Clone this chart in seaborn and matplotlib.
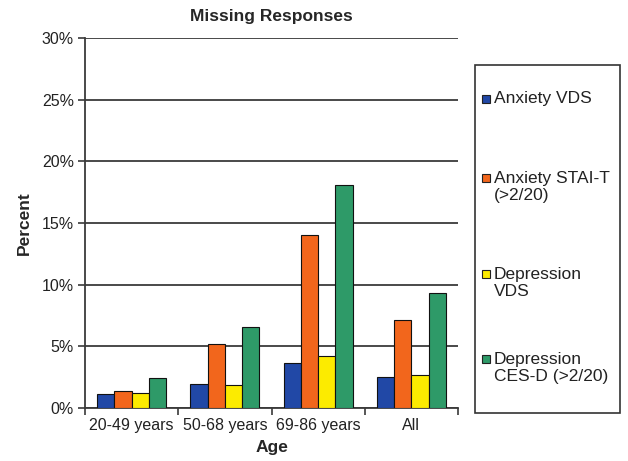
import pandas as pd
import matplotlib
matplotlib.use("Agg")
import matplotlib.pyplot as plt
from matplotlib.patches import Rectangle
import seaborn as sns

# data (percent missing)
ages = ["20-49 years", "50-68 years", "69-86 years", "All"]
measures = ["Anxiety VDS", "Anxiety STAI-T\n(>2/20)", "Depression\nVDS", "Depression\nCES-D (>2/20)"]
anxiety_vds = [1.1, 1.95, 3.65, 2.55]
anxiety_stai = [1.35, 5.15, 14.0, 7.15]
depression_vds = [1.2, 1.85, 4.2, 2.7]
depression_cesd = [2.4, 6.55, 18.1, 9.3]
colors = ["#2148A6", "#F2661C", "#FCEB00", "#2E9A68"]

rows = []
for m, vals in zip(measures, [anxiety_vds, anxiety_stai, depression_vds, depression_cesd]):
    for a, v in zip(ages, vals):
        rows.append({"Age": a, "Measure": m, "Percent": v})
df = pd.DataFrame(rows)

sns.set_style("white")
plt.rcParams["font.family"] = ["Liberation Sans", "DejaVu Sans"]

W, H = 628, 461
fig = plt.figure(figsize=(W / 100, H / 100), dpi=100)
ax = fig.add_axes([85 / W, 1 - 408 / H, (458 - 85) / W, (408 - 38) / H])

sns.barplot(data=df, x="Age", y="Percent", hue="Measure", order=ages, hue_order=measures,
            palette=colors, saturation=1, width=0.74, edgecolor="#111111", linewidth=0.8,
            ax=ax, zorder=3, legend=False)

ax.set_ylim(0, 30)
ax.set_xlim(-0.5, 3.5)
ax.set_yticks(range(0, 31, 5))
ax.set_yticklabels([f"{t}%" for t in range(0, 31, 5)], fontsize=11.5, color="#222222")
ax.yaxis.grid(True, color="#3a3a3a", linewidth=1.3, zorder=0)
ax.set_axisbelow(True)
ax.tick_params(axis="y", left=True, length=5, width=1.2, color="#3a3a3a", pad=3)
ax.tick_params(axis="x", which="major", bottom=False, labelsize=11.5, labelcolor="#222222", pad=4)
ax.set_xticks([-0.5, 0.5, 1.5, 2.5, 3.5], minor=True)
ax.tick_params(axis="x", which="minor", bottom=True, length=5, width=1.2, color="#3a3a3a")

for s in ["top", "right"]:
    ax.spines[s].set_visible(False)
for s in ["left", "bottom"]:
    ax.spines[s].set_color("#3a3a3a")
    ax.spines[s].set_linewidth(1.3)

ax.set_xlabel("Age", fontsize=12.5, fontweight="bold", labelpad=5)
ax.set_ylabel("Percent", fontsize=12.5, fontweight="bold", labelpad=7)
ax.set_title("Missing Responses", fontsize=12.5, fontweight="bold", pad=12)

# legend box drawn by hand so the swatch sits on the first text line
fig.patches.append(Rectangle((475 / W, 1 - 413 / H), (620 - 475) / W, (413 - 65) / H,
                             transform=fig.transFigure, facecolor="white",
                             edgecolor="#333333", linewidth=1.2))
entry_y = [99, 178, 274, 359]
for lab, col, y in zip(measures, colors, entry_y):
    fig.patches.append(Rectangle((482 / W, 1 - (y + 4) / H), 8 / W, 8 / H,
                                 transform=fig.transFigure, facecolor=col,
                                 edgecolor="#222222", linewidth=0.8))
    for i, line in enumerate(lab.split("\n")):
        fig.text(494 / W, 1 - (y + i * 17.5) / H, line, fontsize=12.5, color="#222222",
                 ha="left", va="center")

fig.savefig("out.png", dpi=100, facecolor="white")
